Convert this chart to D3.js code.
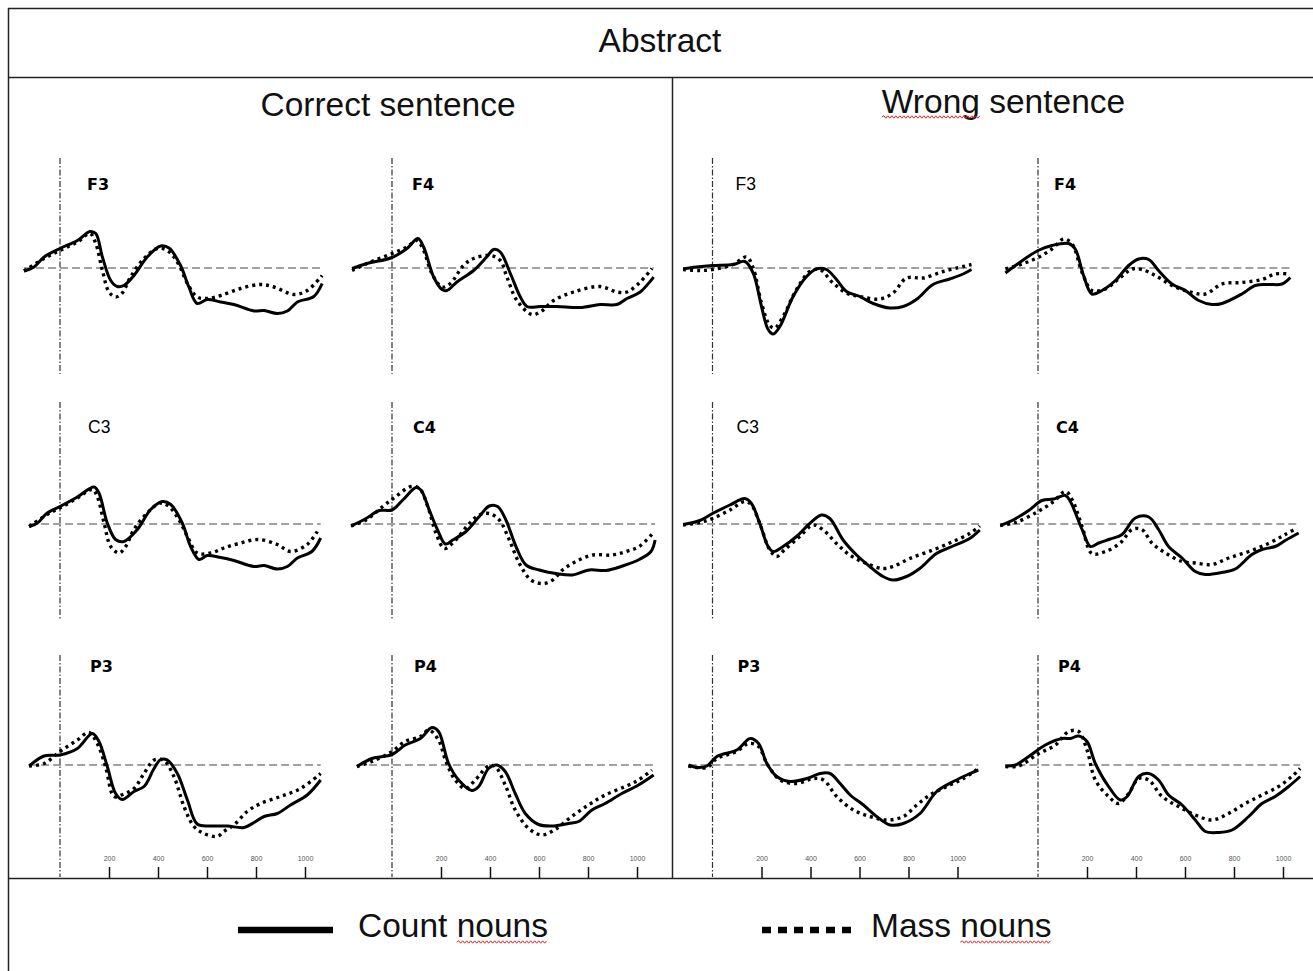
<!DOCTYPE html>
<html>
<head>
<meta charset="utf-8">
<script src="https://cdn.jsdelivr.net/npm/d3@7"></script>
<style>
  body { margin: 0; background: #fff; }
  svg { display: block; }
</style>
</head>
<body>
<svg id="chart" width="1313" height="971"></svg>
<script>
// ---- Data: grand-average waveforms, [time (ms), amplitude (µV)] ----
const conditions = ["Correct sentence", "Wrong sentence"];
const electrodeRows = [["F3", "F4"], ["C3", "C4"], ["P3", "P4"]];
const seriesNames = ["Count nouns", "Mass nouns"];
const tickValues = [200, 400, 600, 800, 1000];

const correctF3Count = [[-147,-0.6],[-106,0.2],[-65,2.2],[0,3.9],[71,5.5],[122,7.3],[146,6.9],[173,2.2],[207,-2.5],[234,-3.7],[261,-3.5],[302,-1.5],[356,2.2],[411,4.4],[445,4.0],[492,0.5],[526,-3.8],[560,-7.1],[601,-6.3],[656,-6.8],[710,-7.3],[792,-8.6],[833,-8.5],[887,-9.1],[928,-8.6],[969,-6.8],[1036,-5.7],[1070,-3.1]];
const correctF3Mass = [[-147,-0.6],[-65,1.9],[0,3.5],[71,5.2],[122,6.9],[146,4.9],[173,-0.5],[200,-4.8],[227,-5.8],[254,-5.0],[288,-1.8],[343,1.9],[397,3.9],[438,3.5],[479,1.2],[520,-3.1],[560,-5.8],[601,-6.1],[656,-5.5],[737,-4.1],[819,-3.3],[873,-3.8],[955,-5.3],[1009,-4.5],[1070,-1.5]];
const correctF4Count = [[-163,-0.1],[-102,0.9],[0,2.1],[61,3.9],[106,5.9],[129,4.2],[170,-1.8],[204,-4.3],[224,-4.5],[265,-2.8],[333,-0.5],[388,2.3],[415,3.7],[442,3.2],[483,-1.1],[524,-5.8],[551,-7.7],[605,-7.7],[673,-7.7],[768,-7.9],[850,-7.3],[918,-7.3],[959,-6.1],[1013,-4.8],[1068,-1.8]];
const correctF4Mass = [[-163,-0.5],[-102,0.9],[0,2.9],[61,4.2],[102,5.5],[129,3.5],[163,-1.1],[204,-3.8],[238,-3.1],[292,0.5],[333,1.9],[401,2.5],[442,1.5],[469,-1.8],[510,-6.5],[571,-9.3],[605,-8.8],[660,-6.5],[741,-4.8],[850,-3.7],[918,-4.8],[959,-4.8],[1013,-2.8],[1061,-0.1]];
const correctC3Count = [[-126,-0.5],[-92,0.2],[-52,2.2],[0,3.5],[71,5.4],[139,7.4],[159,6.2],[193,0.2],[227,-3.1],[261,-3.5],[316,-1.1],[370,2.9],[418,4.5],[452,3.9],[499,0.2],[533,-4.5],[567,-7.1],[601,-6.3],[656,-6.7],[710,-7.3],[792,-8.5],[833,-8.3],[887,-9.0],[928,-8.5],[969,-6.8],[1028,-5.5],[1064,-2.8]];
const correctC3Mass = [[-126,-0.5],[-52,1.9],[0,3.2],[71,5.2],[132,6.9],[152,5.5],[180,0.2],[207,-4.5],[241,-5.8],[268,-4.5],[302,-1.1],[356,2.2],[411,4.2],[445,3.5],[485,0.9],[520,-2.5],[560,-5.8],[615,-5.8],[669,-4.8],[737,-3.8],[811,-3.1],[887,-4.1],[941,-5.5],[1009,-4.1],[1050,-1.5]];
const correctC4Count = [[-167,-0.4],[-106,1.1],[-52,2.7],[0,2.8],[44,4.8],[98,7.3],[118,6.8],[152,2.8],[186,-1.2],[218,-4.0],[248,-3.2],[302,-1.5],[356,1.5],[397,3.6],[431,3.5],[465,0.8],[506,-4.5],[547,-8.2],[601,-9.2],[669,-9.9],[737,-10.2],[805,-9.2],[873,-9.3],[941,-8.4],[1009,-7.1],[1057,-5.5],[1074,-3.2]];
const correctC4Mass = [[-167,-0.4],[-106,0.8],[-38,3.5],[16,5.5],[78,7.5],[112,7.1],[146,3.5],[180,-1.9],[214,-4.9],[254,-3.5],[316,0.1],[356,1.8],[397,2.1],[438,0.8],[479,-3.2],[520,-7.9],[567,-11.2],[615,-11.9],[656,-11.2],[696,-9.2],[751,-7.5],[819,-6.2],[900,-6.2],[955,-5.5],[1009,-4.5],[1064,-1.9]];
const correctP3Count = [[-126,-0.2],[-65,1.8],[0,2.0],[71,3.3],[132,6.3],[159,4.7],[193,-0.3],[227,-5.7],[254,-6.9],[302,-5.3],[343,-4.3],[384,-0.7],[411,1.1],[438,1.0],[479,-1.7],[520,-7.0],[560,-11.8],[615,-12.2],[683,-12.2],[751,-12.5],[792,-11.5],[833,-10.3],[887,-9.7],[941,-8.0],[1009,-6.0],[1064,-3.0]];
const correctP3Mass = [[-126,-0.2],[-65,0.3],[0,2.7],[71,5.0],[118,6.5],[152,4.3],[186,-0.3],[221,-6.3],[261,-5.8],[302,-4.7],[343,-1.7],[384,1.0],[424,0.9],[465,-2.3],[506,-8.3],[547,-12.3],[588,-13.7],[642,-14.3],[669,-13.3],[710,-12.0],[764,-9.3],[819,-7.7],[900,-6.3],[982,-4.7],[1064,-1.7]];
const correctP4Count = [[-143,-0.3],[-82,1.3],[0,2.1],[54,4.0],[116,5.3],[163,7.5],[190,6.7],[231,0.3],[272,-3.0],[326,-5.1],[354,-4.3],[394,-0.7],[428,0],[462,-1.3],[503,-5.7],[544,-9.7],[598,-11.9],[653,-12.2],[721,-11.7],[762,-11.3],[816,-9.0],[870,-7.7],[938,-5.7],[1006,-4.0],[1068,-2.0]];
const correctP4Mass = [[-143,-0.3],[-82,0.7],[0,2.7],[54,4.7],[116,5.7],[150,7.0],[190,5.0],[218,1.0],[258,-3.0],[299,-4.7],[340,-3.0],[394,-0.2],[421,-0.3],[462,-4.0],[503,-9.0],[558,-12.7],[612,-14.0],[666,-12.9],[734,-10.3],[802,-8.0],[870,-6.0],[952,-4.3],[1006,-3.0],[1061,-1.0]];

const wrongF3Count = [[-120,-0.2],[-65,0.2],[0,0.5],[84,0.7],[132,1.3],[166,-1.0],[200,-7.7],[227,-12.3],[248,-13.2],[275,-11.7],[329,-5.7],[384,-1.7],[424,-0.2],[465,-0.3],[506,-2.3],[547,-4.7],[601,-5.7],[656,-7.1],[724,-8.0],[778,-7.7],[832,-6.3],[900,-3.3],[968,-2.2],[1023,-1.2],[1057,-0.3]];
const wrongF3Mass = [[-120,-0.3],[-52,-0.5],[0,-0.3],[84,0.7],[139,2.2],[166,0],[200,-7.0],[234,-11.5],[254,-12.0],[288,-9.7],[343,-4.3],[397,-0.7],[438,-0.3],[492,-3.0],[547,-5.0],[601,-5.7],[683,-6.2],[737,-5.0],[792,-2.0],[860,-2.0],[941,-0.7],[1023,0.3],[1057,0.7]];
const wrongF4Count = [[-133,-1.0],[-92,0.5],[0,3.5],[57,4.5],[125,4.9],[152,3.8],[186,-1.5],[220,-5.2],[261,-4.5],[316,-2.5],[370,0.5],[411,1.8],[452,1.7],[492,-0.5],[547,-3.2],[601,-4.5],[656,-6.5],[710,-7.3],[751,-7.1],[832,-5.2],[887,-3.5],[941,-3.3],[996,-3.2],[1030,-1.9]];
const wrongF4Mass = [[-133,-0.2],[-65,0.8],[0,2.1],[57,3.8],[105,5.8],[139,4.8],[180,-0.9],[220,-4.5],[275,-4.2],[329,-2.2],[384,-0.2],[424,-0.3],[479,-1.5],[547,-3.5],[615,-4.7],[683,-5.2],[751,-3.2],[832,-2.9],[914,-2.3],[968,-1.2],[1023,-1.2]];
const wrongC3Count = [[-120,-0.1],[-52,0.7],[0,2.1],[71,3.8],[132,5.1],[159,4.1],[193,0.1],[227,-4.5],[248,-5.5],[288,-4.5],[343,-2.5],[397,0.1],[445,1.8],[479,1.1],[533,-3.2],[588,-6.2],[642,-8.5],[696,-10.5],[737,-11.2],[792,-10.5],[846,-8.9],[914,-5.9],[982,-4.4],[1050,-2.9],[1091,-1.2]];
const wrongC3Mass = [[-120,-0.2],[-52,0.3],[0,1.1],[71,2.8],[132,4.5],[159,3.8],[193,0.1],[234,-5.2],[261,-6.5],[295,-5.1],[356,-2.5],[411,-0.2],[452,-1.2],[506,-3.9],[560,-6.2],[628,-7.9],[696,-8.9],[737,-8.5],[805,-6.9],[900,-5.2],[982,-3.5],[1050,-1.9],[1091,-0.4]];
const wrongC4Count = [[-154,-0.3],[-106,0.7],[-38,2.7],[16,4.7],[64,5.0],[112,5.7],[132,4.5],[180,-1.1],[214,-4.5],[248,-3.8],[295,-3.0],[343,-2.1],[397,1.2],[452,1.4],[492,-1.1],[533,-4.5],[588,-6.8],[642,-9.5],[683,-10.1],[751,-9.7],[805,-9.0],[873,-6.1],[914,-5.1],[968,-4.5],[1009,-3.3],[1064,-1.8]];
const wrongC4Mass = [[-154,-0.3],[-92,0.3],[0,2.5],[64,4.5],[112,6.5],[139,4.9],[180,-0.5],[220,-5.9],[275,-5.5],[336,-3.8],[384,-1.1],[424,-1.1],[465,-3.8],[520,-5.8],[588,-7.5],[642,-7.8],[710,-8.1],[778,-6.8],[860,-5.5],[941,-3.9],[1009,-2.1],[1057,-0.8]];
const wrongP3Count = [[-98,0],[-64,-0.5],[-23,-0.2],[18,1.7],[99,3.0],[154,5.3],[188,4.3],[222,0.3],[262,-2.3],[317,-3.3],[385,-2.7],[439,-1.7],[480,-1.7],[521,-3.7],[562,-6.0],[616,-8.0],[670,-10.3],[725,-12.0],[779,-11.7],[847,-9.7],[915,-5.3],[983,-3.3],[1051,-1.7],[1085,-1.0]];
const wrongP3Mass = [[-98,-0.2],[-23,-0.5],[18,1.3],[99,2.7],[147,4.3],[188,3.7],[222,0.3],[276,-3.0],[344,-3.7],[412,-2.7],[453,-3.0],[507,-6.3],[575,-9.0],[643,-10.3],[711,-11.0],[779,-10.3],[834,-8.0],[888,-6.0],[956,-4.3],[1024,-2.7],[1085,-0.7]];
const wrongP4Count = [[-133,-0.2],[-92,0],[-38,1.7],[30,4.0],[98,5.3],[132,5.3],[166,5.8],[200,4.7],[234,0.3],[288,-4.3],[336,-7.0],[364,-6.3],[411,-2.3],[452,-1.7],[492,-3.0],[533,-6.0],[588,-8.0],[642,-11.0],[683,-13.3],[737,-13.5],[792,-13.0],[860,-10.3],[914,-7.7],[968,-6.3],[1023,-4.3],[1070,-2.3]];
const wrongP4Mass = [[-133,-0.3],[-79,-0.2],[3,2.3],[71,4.0],[125,6.7],[166,6.7],[200,3.0],[234,-3.0],[288,-6.3],[329,-7.7],[370,-5.7],[411,-2.7],[452,-3.0],[506,-6.3],[574,-8.3],[642,-10.0],[710,-11.0],[778,-9.7],[846,-7.7],[914,-6.0],[982,-4.3],[1036,-2.3],[1070,-0.7]];

// Lookup built from the arrays above: condition -> electrode -> [count, mass]
const waveforms = {
  "Correct sentence": {
    F3: [correctF3Count, correctF3Mass], F4: [correctF4Count, correctF4Mass],
    C3: [correctC3Count, correctC3Mass], C4: [correctC4Count, correctC4Mass],
    P3: [correctP3Count, correctP3Mass], P4: [correctP4Count, correctP4Mass]
  },
  "Wrong sentence": {
    F3: [wrongF3Count, wrongF3Mass], F4: [wrongF4Count, wrongF4Mass],
    C3: [wrongC3Count, wrongC3Mass], C4: [wrongC4Count, wrongC4Mass],
    P3: [wrongP3Count, wrongP3Mass], P4: [wrongP4Count, wrongP4Mass]
  }
};

// ---- Layout ----
const W = 1313, H = 971;
const zeroX = [60, 392, 712.5, 1038];        // x of stimulus onset per panel column
const baseY = [268, 524, 765];               // zero-µV line per row
const onsetSpan = [[158, 374], [402, 620], [655, 877]];
const pxPerMs = 0.245, pxPerUv = 5;
const labelOffset = [[27, 20, 23, 16], [28, 21, 24, 18], [30, 22, 25, 20]];
const labelBase = [190, 433, 672];
const labelBold = [[true, true, false, true], [false, true, false, true], [true, true, true, true]];
const condCenterX = [388, 1003.5];
const condBaseY = [116, 113];
const frameColor = "#222";
const sans = "'Liberation Sans', Arial, sans-serif";
const headSize = 33.5;

const svg = d3.select("#chart");
svg.append("rect").attr("width", W).attr("height", H).attr("fill", "#fff");

// ---- Frame ----
const frame = svg.append("g").attr("stroke", frameColor).attr("stroke-width", 1.5);
frame.append("line").attr("x1", 8).attr("x2", W).attr("y1", 8.5).attr("y2", 8.5);
frame.append("line").attr("x1", 8.5).attr("x2", 8.5).attr("y1", 8).attr("y2", H);
frame.append("line").attr("x1", 8).attr("x2", W).attr("y1", 77.5).attr("y2", 77.5);
frame.append("line").attr("x1", 672.5).attr("x2", 672.5).attr("y1", 77).attr("y2", 878);
frame.append("line").attr("x1", 8).attr("x2", W).attr("y1", 878.5).attr("y2", 878.5);

// spelling-check style squiggle under a run of characters
function squiggle(textSel, from, to, dy) {
  const node = textSel.node();
  const x1 = node.getStartPositionOfChar(from).x;
  const x2 = node.getEndPositionOfChar(to).x;
  const y0 = +textSel.attr("y") + dy;
  let d = `M${x1},${y0}`;
  let up = true;
  for (let x = x1 + 2; x <= x2; x += 2) {
    d += `L${x},${y0 + (up ? -1.2 : 1.2)}`;
    up = !up;
  }
  svg.append("path").attr("d", d).attr("fill", "none")
    .attr("stroke", "#e02020").attr("stroke-width", 1);
}

// ---- Titles ----
svg.append("text").attr("x", 660).attr("y", 52).attr("text-anchor", "middle")
  .attr("font-family", sans).attr("font-size", headSize).attr("fill", "#111").text("Abstract");

conditions.forEach((c, ci) => {
  const t = svg.append("text").attr("x", condCenterX[ci]).attr("y", condBaseY[ci])
    .attr("text-anchor", "middle").attr("font-family", sans).attr("font-size", headSize)
    .attr("fill", "#111").text(c);
  if (c.startsWith("Wrong")) squiggle(t, 0, 4, 4);
});

// ---- Panels ----
const lineFor = (x, y) => d3.line()
  .x(d => x(d[0])).y(d => y(d[1]))
  .curve(d3.curveCatmullRom.alpha(0.5));

conditions.forEach((cond, ci) => {
  electrodeRows.forEach((row, r) => {
    row.forEach((el, c) => {
      const gi = ci * 2 + c;
      const [countWave, massWave] = waveforms[cond][el];
      const x = d3.scaleLinear().domain([0, 1000]).range([zeroX[gi], zeroX[gi] + 1000 * pxPerMs]);
      const y = d3.scaleLinear().domain([0, 10]).range([baseY[r], baseY[r] - 10 * pxPerUv]);
      const g = svg.append("g");

      // zero-amplitude reference
      const t0 = d3.min([countWave[0][0], massWave[0][0]]);
      const t1 = d3.max([countWave[countWave.length - 1][0], massWave[massWave.length - 1][0]]);
      g.append("line").attr("x1", x(t0)).attr("x2", x(t1))
        .attr("y1", y(0)).attr("y2", y(0))
        .attr("stroke", "#444").attr("stroke-width", 1.2).attr("stroke-dasharray", "8,4");

      // stimulus onset
      g.append("line").attr("x1", x(0)).attr("x2", x(0))
        .attr("y1", onsetSpan[r][0]).attr("y2", onsetSpan[r][1])
        .attr("stroke", "#333").attr("stroke-width", 1.2).attr("stroke-dasharray", "6,2,1.5,2");

      // waveforms
      const line = lineFor(x, y);
      g.append("path").datum(massWave).attr("d", line).attr("fill", "none")
        .attr("stroke", "#000").attr("stroke-width", 3.4).attr("stroke-dasharray", "3,4");
      g.append("path").datum(countWave).attr("d", line).attr("fill", "none")
        .attr("stroke", "#000").attr("stroke-width", 3).attr("stroke-linejoin", "round");

      // electrode label
      const bold = labelBold[r][gi];
      g.append("text").attr("x", zeroX[gi] + labelOffset[r][gi]).attr("y", labelBase[r])
        .attr("font-family", bold ? "'DejaVu Sans', Verdana, sans-serif" : sans)
        .attr("font-weight", bold ? "bold" : "normal")
        .attr("font-size", bold ? 16 : 17.5).attr("fill", "#000").text(el);

      // time axis on the bottom row
      if (r === electrodeRows.length - 1) {
        const ax = g.append("g").attr("transform", "translate(0,878)")
          .call(d3.axisTop(x).tickValues(tickValues).tickFormat(d3.format("d"))
            .tickSize(11).tickPadding(6));
        ax.select(".domain").remove();
        ax.selectAll(".tick line").attr("stroke", "#111").attr("stroke-width", 1.5);
        ax.selectAll(".tick text").attr("font-family", sans).attr("font-size", 7).attr("fill", "#555");
      }
    });
  });
});

// ---- Legend ----
const legendX = [238, 762];
const legendTextX = [358, 871];
seriesNames.forEach((name, i) => {
  const l = svg.append("line").attr("x1", legendX[i]).attr("x2", legendX[i] + 95)
    .attr("y1", 930).attr("y2", 930).attr("stroke", "#000").attr("stroke-width", 6.5);
  if (i === 1) l.attr("stroke-dasharray", "9,7").attr("x2", legendX[i] + 93);
  const t = svg.append("text").attr("x", legendTextX[i]).attr("y", 937)
    .attr("font-family", sans).attr("font-size", headSize).attr("fill", "#111").text(name);
  const s = name.indexOf("nouns");
  squiggle(t, s, s + 4, 5);
});
</script>
</body>
</html>
